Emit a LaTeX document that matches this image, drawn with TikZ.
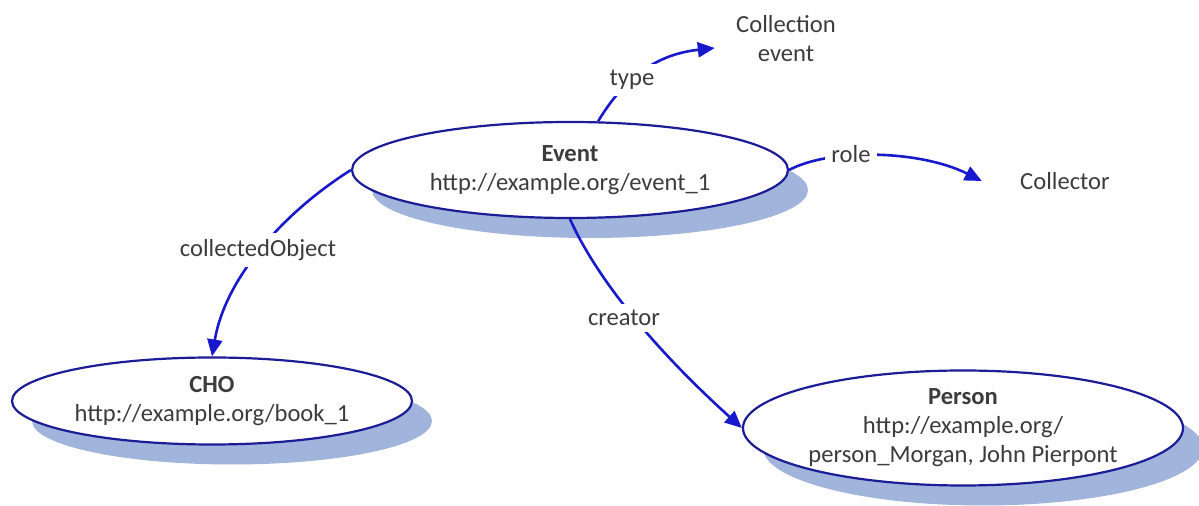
\documentclass[tikz,border=0pt]{standalone}
\usepackage{fontspec}
\setmainfont{Carlito}
\usetikzlibrary{shapes.geometric,arrows.meta,shadows}

\definecolor{edgeblue}{RGB}{24,24,205}
\definecolor{rimblue}{RGB}{28,28,150}
\definecolor{shadeblue}{RGB}{160,180,220}
\definecolor{inkgray}{RGB}{60,60,60}

\tikzset{
  every node/.style={text=inkgray, font=\fontsize{12.3}{14.5}\selectfont},
  resource/.style={ellipse, draw=rimblue, line width=1.1pt, fill=white,
    inner sep=0pt, align=center,
    general shadow={fill=shadeblue, shadow xshift=10pt, shadow yshift=-10pt}},
  literal/.style={inner sep=0pt, align=center},
  prop/.style={fill=white, inner sep=3pt},
  link/.style={draw=edgeblue, line width=1.3pt,
    -{Triangle[length=8.5pt,width=7.5pt]}}
}

\begin{document}
\begin{tikzpicture}[x=0.5pt, y=-0.5pt]
  \useasboundingbox (0,0) rectangle (1199,506);

  % resources
  \node[resource, minimum width=218pt, minimum height=48pt] (event) at (570,170)
    {\textbf{Event}\\http://example.org/event\_1};
  \node[resource, minimum width=200pt, minimum height=43.5pt] (cho) at (212,401)
    {\textbf{CHO}\\http://example.org/book\_1};
  \node[resource, minimum width=220pt, minimum height=57.5pt] (person) at (963,428)
    {\textbf{Person}\\http://example.org/\\person\_Morgan, John Pierpont};

  % literal values
  \node[literal] (coll) at (786,38.5) {Collection\\event};
  \node[literal] (collector) at (1065,181) {Collector};

  % properties
  \draw[link] (event.60) .. controls (620,85) and (650,55) .. ([shift={(-21,9.5)}]coll.west);
  \draw[link] (event.east) .. controls (830,148) and (920,150) .. ([shift={(-38,0)}]collector.west);
  \draw[link] (event.west) .. controls (280,215) and (225,280) .. (cho.north);
  \draw[link] (event.south) .. controls (595,275) and (650,345) .. (person.west);

  % property labels
  \node[prop] (ltype) at (632,80) {type};
  \node[prop] (lrole) at (851,154) {role};
  \node[prop] (lcoll) at (258,250) {collectedObject};
  \node[prop] (lcreator) at (624,318) {creator};
\end{tikzpicture}
\end{document}
